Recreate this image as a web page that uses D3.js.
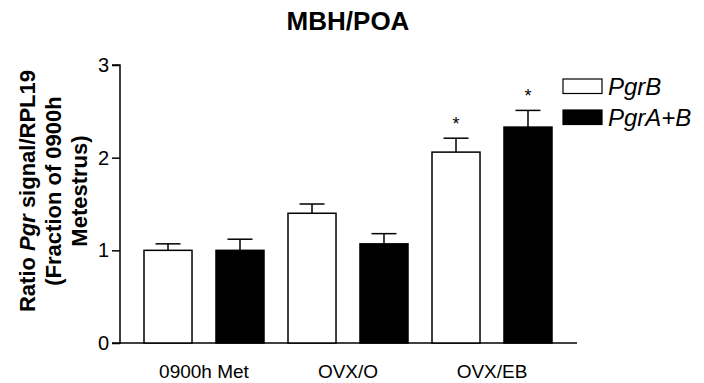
<!DOCTYPE html>
<html>
<head>
<meta charset="utf-8">
<script src="https://cdn.jsdelivr.net/npm/d3@7"></script>
<style>
  body { margin: 0; background: #fff; }
  text { font-family: "Liberation Sans", Arial, sans-serif; }
</style>
</head>
<body>
<div id="chart"></div>
<script>
(function() {
	var groups = ["0900h Met", "OVX/O", "OVX/EB"];
	var series = ["PgrB", "PgrA+B"];
	var means = [[1.00, 1.00], [1.40, 1.07], [2.06, 2.33]];
	var sems = [[0.07, 0.12], [0.10, 0.11], [0.15, 0.18]];
	var stars = [[false, false], [false, false], [true, true]];
	var yTicks = [0, 1, 2, 3];

	var width = 704, height = 383;

	var svg = d3.select("#chart")
				.append("svg")
				.attr("width", width)
				.attr("height", height);

	// scales
	var yScale = d3.scaleLinear().domain([0, 3]).range([343, 65]);
	var xGroup = d3.scaleBand().domain(groups).range([132, 564]).paddingInner(0).paddingOuter(0);
	var xBar = d3.scaleBand().domain(series).range([0, xGroup.bandwidth()]).paddingInner(0.333).paddingOuter(0.1667);
	var fill = d3.scaleOrdinal().domain(series).range(["#fff", "#000"]);

	// title
	svg.append("text")
		.attr("x", 348).attr("y", 30)
		.attr("text-anchor", "middle")
		.attr("font-weight", "bold")
		.attr("font-size", 26)
		.text("MBH/POA");

	// y axis
	var yAxis = svg.append("g")
		.attr("transform", "translate(120,0)")
		.call(d3.axisLeft(yScale).tickValues(yTicks).tickSize(8).tickPadding(3).tickFormat(d3.format("d")));
	yAxis.select(".domain").attr("stroke-width", 1.5).attr("d", "M-8," + yScale(3) + "H0V" + yScale(0) + "H-8");
	yAxis.selectAll(".tick line").attr("stroke-width", 1.5);
	yAxis.selectAll(".tick text").attr("font-size", 20).attr("fill", "#000")
		.style("font-family", "Liberation Sans, Arial, sans-serif");

	// x baseline
	svg.append("line")
		.attr("x1", 120).attr("x2", 577)
		.attr("y1", yScale(0)).attr("y2", yScale(0))
		.attr("stroke", "#000").attr("stroke-width", 1.5);

	// x labels
	svg.selectAll(".xlab")
		.data(groups)
		.enter()
		.append("text")
		.attr("class", "xlab")
		.attr("x", function(d) { return xGroup(d) + xGroup.bandwidth() / 2; })
		.attr("y", 378)
		.attr("text-anchor", "middle")
		.attr("font-size", 19)
		.text(function(d) { return d; });

	// bars
	var bars = [];
	groups.forEach(function(g, gi) {
		series.forEach(function(s, si) {
			bars.push({ g: g, s: s, v: means[gi][si], e: sems[gi][si], star: stars[gi][si] });
		});
	});

	var barG = svg.selectAll(".bar")
		.data(bars)
		.enter()
		.append("g")
		.attr("class", "bar")
		.attr("transform", function(d) { return "translate(" + (xGroup(d.g) + xBar(d.s)) + ",0)"; });

	var bw = xBar.bandwidth();

	barG.append("line")
		.attr("x1", bw / 2).attr("x2", bw / 2)
		.attr("y1", function(d) { return yScale(d.v); })
		.attr("y2", function(d) { return yScale(d.v + d.e); })
		.attr("stroke", "#000").attr("stroke-width", 1.5);
	barG.append("line")
		.attr("x1", bw / 2 - 12.5).attr("x2", bw / 2 + 12.5)
		.attr("y1", function(d) { return yScale(d.v + d.e); })
		.attr("y2", function(d) { return yScale(d.v + d.e); })
		.attr("stroke", "#000").attr("stroke-width", 1.5);

	barG.append("rect")
		.attr("x", 0)
		.attr("y", function(d) { return yScale(d.v); })
		.attr("width", bw)
		.attr("height", function(d) { return yScale(0) - yScale(d.v); })
		.attr("fill", function(d) { return fill(d.s); })
		.attr("stroke", "#000").attr("stroke-width", 1.5);

	barG.filter(function(d) { return d.star; })
		.append("text")
		.attr("x", bw / 2)
		.attr("y", function(d) { return yScale(d.v + d.e) - 8; })
		.attr("text-anchor", "middle")
		.attr("font-size", 18)
		.text("*");

	// legend
	var legend = svg.selectAll(".leg")
		.data(series)
		.enter()
		.append("g")
		.attr("class", "leg")
		.attr("transform", function(d, i) { return "translate(563," + (79 + i * 31) + ")"; });
	legend.append("rect")
		.attr("width", 39).attr("height", 14.5)
		.attr("fill", function(d) { return fill(d); })
		.attr("stroke", "#000").attr("stroke-width", 1.2);
	legend.append("text")
		.attr("x", 45).attr("y", 16)
		.attr("font-size", 24)
		.attr("font-style", "italic")
		.text(function(d) { return d; });

	// y label
	var yl = svg.append("text")
		.attr("transform", "translate(0,191) rotate(-90)")
		.attr("text-anchor", "middle")
		.attr("font-weight", "bold")
		.attr("font-size", 22);
	var l1 = yl.append("tspan").attr("x", 0).attr("y", 35);
	l1.append("tspan").text("Ratio ");
	l1.append("tspan").attr("font-style", "italic").text("Pgr");
	l1.append("tspan").text(" signal/RPL19");
	yl.append("tspan").attr("x", 0).attr("y", 61).text("(Fraction of 0900h");
	yl.append("tspan").attr("x", 0).attr("y", 87).text("Metestrus)");
})();
</script>
</body>
</html>
